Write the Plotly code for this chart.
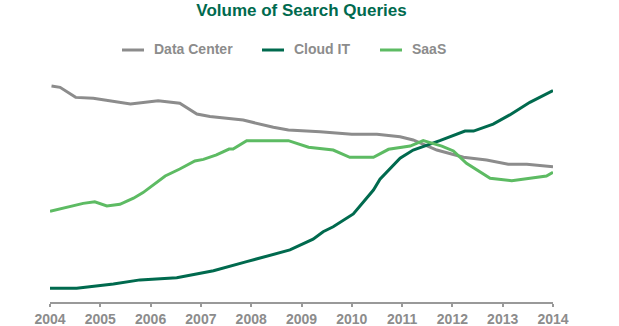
import plotly.graph_objects as go

# Search-query volume index (relative scale), sampled along the time axis
years_tick = [2004, 2005, 2006, 2007, 2008, 2009, 2010, 2011, 2012, 2013, 2014]

dc_x = [2004.03, 2004.2, 2004.51, 2004.86, 2005.6, 2006.15, 2006.58, 2006.92, 2007.18,
        2007.84, 2008.44, 2008.74, 2009.37, 2010.0, 2010.5, 2010.96, 2011.22, 2011.69,
        2012.22, 2012.68, 2013.11, 2013.48, 2014.0]
dc_y = [93.2, 92.6, 88.3, 87.9, 85.5, 86.9, 85.8, 81.2, 80.1,
        78.6, 75.5, 74.4, 73.6, 72.5, 72.5, 71.5, 70.1, 65.8,
        62.7, 61.5, 59.7, 59.7, 58.7]

cloud_x = [2004.0, 2004.53, 2005.26, 2005.79, 2006.52, 2007.25, 2007.91, 2008.77, 2009.23,
           2009.43, 2009.63, 2010.03, 2010.43, 2010.53, 2010.56, 2010.96, 2011.22, 2011.75,
           2012.25, 2012.42, 2012.81, 2013.14, 2013.54, 2014.0]
cloud_y = [6.7, 6.7, 8.5, 10.3, 11.2, 14.2, 18.1, 23.1, 27.7,
           30.9, 33.0, 38.5, 48.7, 52.3, 53.3, 62.3, 65.8, 69.8,
           73.9, 73.9, 76.9, 80.8, 86.2, 91.2]

saas_x = [2004.0, 2004.66, 2004.89, 2005.13, 2005.39, 2005.66, 2005.85, 2006.29, 2006.58,
          2006.88, 2007.05, 2007.31, 2007.56, 2007.64, 2007.91, 2008.74, 2009.14, 2009.63,
          2009.96, 2010.43, 2010.73, 2011.16, 2011.42, 2011.79, 2012.02, 2012.28, 2012.75,
          2013.18, 2013.87, 2014.0]
saas_y = [39.6, 43.0, 43.7, 41.9, 42.6, 45.2, 47.6, 54.7, 57.7,
          61.1, 61.8, 63.7, 66.2, 66.2, 69.8, 69.8, 67.0, 65.8,
          62.7, 62.7, 66.1, 67.5, 69.8, 67.5, 65.4, 60.1, 53.7,
          52.7, 54.7, 56.3]

series_names = ["Data Center", "Cloud IT", "SaaS"]

GRAY = "#8c8c8c"
DARK_GREEN = "#006a4e"
LIGHT_GREEN = "#5dbb63"
series_colors = [GRAY, DARK_GREEN, LIGHT_GREEN]
FONT = "Liberation Sans, Arial, sans-serif"

W, H = 619, 326
M_L, M_R, M_T, M_B = 50, 66, 70, 24
PW, PH = W - M_L - M_R, H - M_T - M_B


def px_to_paper_x(px):
    return (px - M_L) / PW


def px_to_paper_y(py):
    return 1 + (M_T - py) / PH


fig = go.Figure()
for name, xs, ys, col in zip(series_names, [dc_x, cloud_x, saas_x],
                             [dc_y, cloud_y, saas_y], series_colors):
    fig.add_trace(go.Scatter(x=xs, y=ys, mode="lines", name=name,
                             line=dict(color=col, width=3), showlegend=False))

# Horizontal legend row: short colour swatch followed by the series name
legend_starts = [122, 262, 380]
shapes, annotations = [], []
for name, col, x0 in zip(series_names, series_colors, legend_starts):
    shapes.append(dict(type="line", xref="paper", yref="paper",
                       x0=px_to_paper_x(x0), x1=px_to_paper_x(x0 + 22),
                       y0=px_to_paper_y(50), y1=px_to_paper_y(50),
                       line=dict(color=col, width=3)))
    annotations.append(dict(text=name, xref="paper", yref="paper",
                            x=px_to_paper_x(x0 + 30), y=px_to_paper_y(48.5),
                            xanchor="left", yanchor="middle", showarrow=False,
                            font=dict(family=FONT, size=14, color=GRAY, weight="bold")))

fig.update_layout(
    width=W, height=H,
    margin=dict(l=M_L, r=M_R, t=M_T, b=M_B),
    paper_bgcolor="white", plot_bgcolor="white",
    title=dict(text="Volume of Search Queries", x=0.5, xanchor="center",
               xref="paper", y=1 - 10.5 / H, yanchor="middle", yref="container",
               font=dict(family=FONT, size=17, color=DARK_GREEN, weight="bold")),
    shapes=shapes,
    annotations=annotations,
    showlegend=False,
)
fig.update_xaxes(range=[2004, 2014], tickvals=years_tick,
                 ticktext=[str(y) for y in years_tick],
                 showgrid=False, zeroline=False, showline=True, automargin=False,
                 linecolor="#999999", linewidth=2, ticks="outside", ticklen=3,
                 tickcolor="#999999", tickwidth=2, ticklabelstandoff=0,
                 tickfont=dict(family=FONT, size=14, color=GRAY, weight="bold"))
fig.update_yaxes(range=[0.85, 100], visible=False, showgrid=False, zeroline=False,
                 automargin=False)

fig.write_html("out.html")
